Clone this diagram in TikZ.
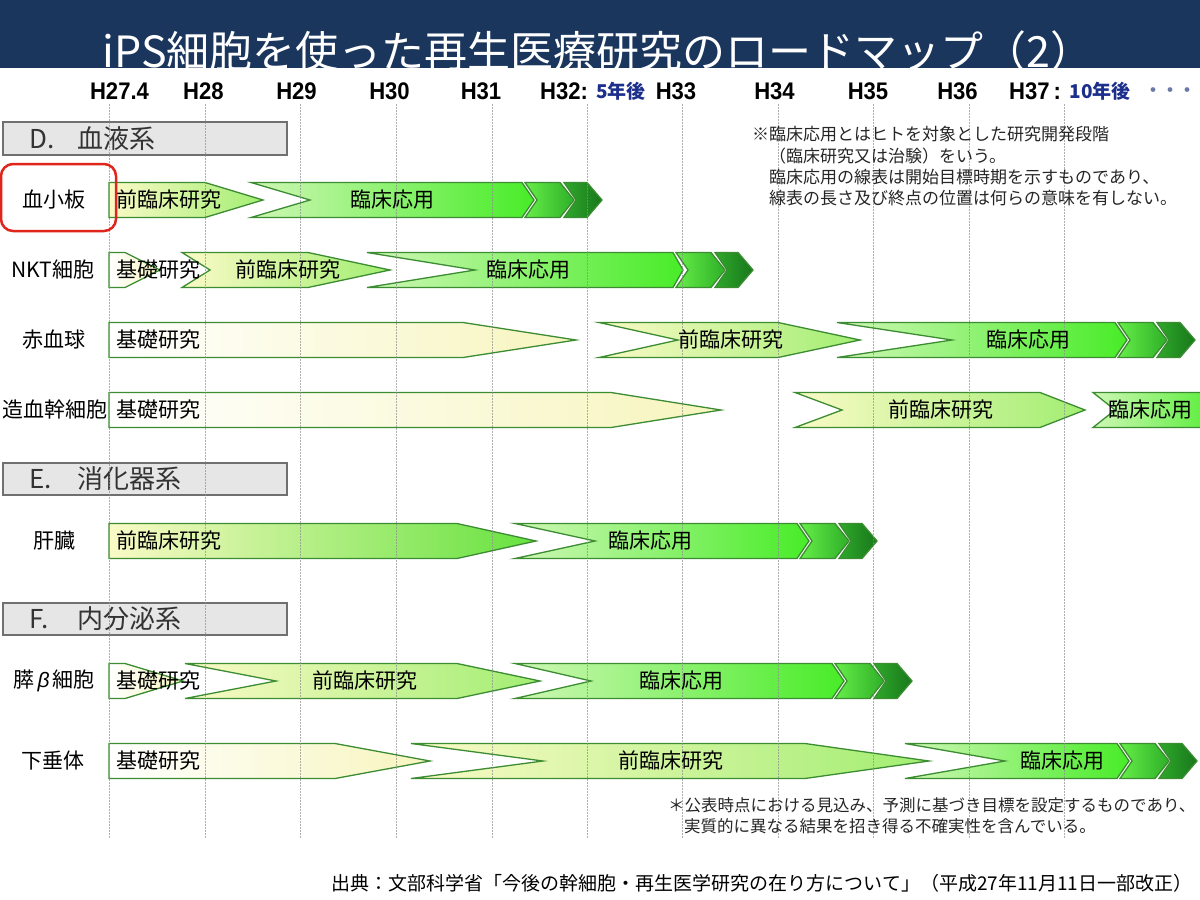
\documentclass[tikz,border=0pt]{standalone}
\usepackage{fontspec}
\setmainfont{Noto Sans CJK JP}
\newfontfamily\hfont[FakeStretch=0.92]{Liberation Sans}
\newfontfamily\grkfont{Liberation Sans}
\definecolor{navy}{HTML}{1B365D}
\definecolor{bargreen}{HTML}{3C8C32}
\definecolor{basicR}{HTML}{F7F5BE}
\definecolor{preL}{HTML}{FAFAC6}
\definecolor{preR}{HTML}{A2EE72}
\definecolor{preRdeep}{HTML}{66E23E}
\definecolor{clinL}{HTML}{CFF7B6}
\definecolor{clinR}{HTML}{48EC28}
\definecolor{cOneL}{HTML}{66EE48}
\definecolor{cOneR}{HTML}{2EAF28}
\definecolor{cTwoL}{HTML}{2FA82B}
\definecolor{cTwoR}{HTML}{18781A}
\definecolor{hdrfill}{HTML}{E6E6E6}
\definecolor{hdrgray}{HTML}{707070}
\definecolor{redbox}{HTML}{E0261C}
\definecolor{bluetxt}{HTML}{1C2F8C}
\definecolor{dotgray}{HTML}{6A7AA8}
\tikzset{
  bd/.style={draw=bargreen, line width=1.3pt, line join=miter},
  basicbar/.style={bd, left color=white, right color=basicR},
  prebar/.style={bd, left color=preL, right color=preR},
  prebardeep/.style={bd, left color=preL, right color=preRdeep},
  clinbar/.style={bd, left color=clinL, right color=clinR},
  chone/.style={bd, left color=cOneL, right color=cOneR},
  chtwo/.style={bd, left color=cTwoL, right color=cTwoR},
  gridln/.style={draw=black!45, line width=0.8pt, dash pattern=on 1.5pt off 1.5pt, opacity=0.7},
  hdrbox/.style={draw=hdrgray, fill=hdrfill, line width=1.5pt},
  hdrtxt/.style={font=\fontsize{26}{30}\selectfont, text=black!80, inner sep=0pt, anchor=west},
  rowlbl/.style={font=\fontsize{21}{24}\selectfont, text=black, inner sep=0pt},
  bartxt/.style={font=\fontsize{21}{24}\selectfont, text=black, inner sep=0pt},
  yrtxt/.style={font=\hfont\bfseries\fontsize{24}{28}\selectfont, text=black, inner sep=0pt},
  yrblue/.style={font=\bfseries\fontsize{19}{22}\selectfont, text=bluetxt, inner sep=0pt},
  notetxt/.style={font=\fontsize{17}{20}\selectfont, text=black!85, inner sep=0pt, anchor=west},
  foottxt/.style={font=\fontsize{16.5}{20}\selectfont, text=black!85, inner sep=0pt, anchor=west},
  redframe/.style={draw=redbox, line width=2.5pt, rounded corners=12pt},
}
% #1 style, #2 left, #3 notch, #4 body end, #5 tip, #6 centre y
\newcommand\rbar[6]{%
  \path[#1] ({#2},{#6-17.5}) -- ({#4},{#6-17.5}) -- ({#5},{#6}) -- ({#4},{#6+17.5}) -- ({#2},{#6+17.5}) -- ({#3},{#6}) -- cycle;}
% #1 L (main body end), #2 centre y
\newcommand\rchevs[2]{%
  \rbar{chone}{#1+3}{#1+15}{#1+38}{#1+52}{#2}%
  \rbar{chtwo}{#1+42}{#1+54}{#1+65}{#1+80}{#2}}
\begin{document}
\begin{tikzpicture}[x=1pt,y=-1pt]
\useasboundingbox (0,0) rectangle (1200,900);
\clip (0,0) rectangle (1200,900);
\fill[white] (0,0) rectangle (1200,900);
% title bar
\fill[navy] (0,0) rectangle (1200,68);
\begin{scope}
  \clip (0,0) rectangle (1200,68);
  \node[font=\fontsize{43}{49}\selectfont, text=white, inner sep=0pt, anchor=base] (title) at (598,67) {iPS細胞を使った再生医療研究のロードマップ（2）};
\end{scope}
% year labels
\node[yrtxt] (y274) at (119.5,91) {H27.4};
\node[yrtxt] (y28) at (203.5,91) {H28};
\node[yrtxt] (y29) at (296.5,91) {H29};
\node[yrtxt] (y30) at (389.5,91) {H30};
\node[yrtxt] (y31) at (481,91) {H31};
\node[yrtxt, anchor=west] (y32) at (540,91) {H32:};
\node[yrblue] (y5) at (621,91) {5年後};
\node[yrtxt] (y33) at (676,91) {H33};
\node[yrtxt] (y34) at (774.5,91) {H34};
\node[yrtxt] (y35) at (868,91) {H35};
\node[yrtxt] (y36) at (957.5,91) {H36};
\node[yrtxt, anchor=west] (y37) at (1009,91) {H37\,:};
\node[yrblue] (y10) at (1100,91) {10年後};
\node[font=\bfseries\fontsize{17}{20}\selectfont, text=dotgray, inner sep=0pt] (ydots) at (1170,92) {・・・};
% section headers
\draw[hdrbox] (3,122) rectangle (287,155);
\node[hdrtxt] (hD) at (29,139) {D.};
\node[hdrtxt] (hDt) at (77,139) {血液系};
\draw[hdrbox] (3,463) rectangle (287,495);
\node[hdrtxt] (hE) at (29,479) {E.};
\node[hdrtxt] (hEt) at (77,479) {消化器系};
\draw[hdrbox] (3,603) rectangle (287,635);
\node[hdrtxt] (hF) at (29,619) {F.};
\node[hdrtxt] (hFt) at (77,619) {内分泌系};
% row 血小板
\rbar{prebar}{109}{109}{205}{263}{200}
\rbar{clinbar}{251}{310}{522}{534}{200}
\rchevs{522}{200}
% row NKT
\rbar{basicbar}{109}{109}{125}{160}{270}
\rbar{prebar}{182}{210}{308}{390}{270}
\rbar{clinbar}{367}{475}{673}{683}{270}
\rchevs{673}{270}
% row 赤血球
\rbar{basicbar}{109}{109}{463}{576}{340}
\rbar{prebar}{599}{678}{778}{860}{340}
\rbar{clinbar}{837}{952}{1115}{1127}{340}
\rchevs{1115}{340}
% row 造血幹細胞
\rbar{basicbar}{109}{109}{611}{721}{410}
\rbar{prebar}{795}{842}{1040}{1085}{410}
\rbar{clinbar}{1093}{1115}{1200}{1230}{410}
% row 肝臓
\rbar{prebardeep}{109}{109}{457}{536}{541}
\rbar{clinbar}{515}{595}{797}{809}{541}
\rchevs{797}{541}
% row 膵β細胞
\rbar{basicbar}{109}{109}{125}{183}{681}
\rbar{prebar}{185}{276}{457}{540}{681}
\rbar{clinbar}{515}{591}{832}{844}{681}
\rchevs{832}{681}
% row 下垂体
\rbar{basicbar}{109}{109}{335}{430}{761}
\rbar{prebar}{411}{543}{805}{929}{761}
\rbar{clinbar}{905}{1005}{1117}{1129}{761}
\rchevs{1117}{761}
% grid lines
\foreach \gx in {109,205,300,396,492,587,682,778,873,969,1064}
  \draw[gridln] (\gx,104) -- (\gx,838);
% row labels
\draw[redframe] (1,164) rectangle (116,231);
\node[rowlbl] (l1) at (54,200) {血小板};
\node[rowlbl] (l2) at (53,270) {NKT細胞};
\node[rowlbl] (l3) at (54,340) {赤血球};
\node[rowlbl] (l4) at (55,410) {造血幹細胞};
\node[rowlbl] (l5) at (55,541) {肝臓};
\node[rowlbl] (l6) at (54,681) {膵\,{\grkfont\itshape β}\,細胞};
\node[rowlbl] (l7) at (53,761) {下垂体};
% bar texts
\node[bartxt, anchor=west] (t1a) at (116,200) {前臨床研究};
\node[bartxt] (t1b) at (392,200) {臨床応用};
\node[bartxt, anchor=west] (t2a) at (116,270) {基礎研究};
\node[bartxt] (t2b) at (288,270) {前臨床研究};
\node[bartxt] (t2c) at (528,270) {臨床応用};
\node[bartxt, anchor=west] (t3a) at (116,340) {基礎研究};
\node[bartxt] (t3b) at (731,340) {前臨床研究};
\node[bartxt] (t3c) at (1028,340) {臨床応用};
\node[bartxt, anchor=west] (t4a) at (116,410) {基礎研究};
\node[bartxt] (t4b) at (941,410) {前臨床研究};
\node[bartxt] (t4c) at (1150,410) {臨床応用};
\node[bartxt, anchor=west] (t5a) at (116,541) {前臨床研究};
\node[bartxt] (t5b) at (650,541) {臨床応用};
\node[bartxt, anchor=west] (t6a) at (116,681) {基礎研究};
\node[bartxt] (t6b) at (365,681) {前臨床研究};
\node[bartxt] (t6c) at (681,681) {臨床応用};
\node[bartxt, anchor=west] (t7a) at (116,761) {基礎研究};
\node[bartxt] (t7b) at (671,761) {前臨床研究};
\node[bartxt] (t7c) at (1062,761) {臨床応用};
% notes
\node[notetxt] (n1) at (752,134) {※臨床応用とはヒトを対象とした研究開発段階};
\node[notetxt] (n2) at (769,156) {（臨床研究又は治験）をいう。};
\node[notetxt] (n3) at (769,177) {臨床応用の線表は開始目標時期を示すものであり、};
\node[notetxt] (n4) at (769,198) {線表の長さ及び終点の位置は何らの意味を有しない。};
\node[foottxt] (n5) at (668,805) {＊公表時点における見込み、予測に基づき目標を設定するものであり、};
\node[foottxt] (n6) at (684,826) {実質的に異なる結果を招き得る不確実性を含んでいる。};
\node[font=\fontsize{19}{22}\selectfont, text=black, inner sep=0pt] (src) at (762,883) {出典：文部科学省「今後の幹細胞・再生医学研究の在り方について」（平成27年11月11日一部改正）};
\end{tikzpicture}
\end{document}
